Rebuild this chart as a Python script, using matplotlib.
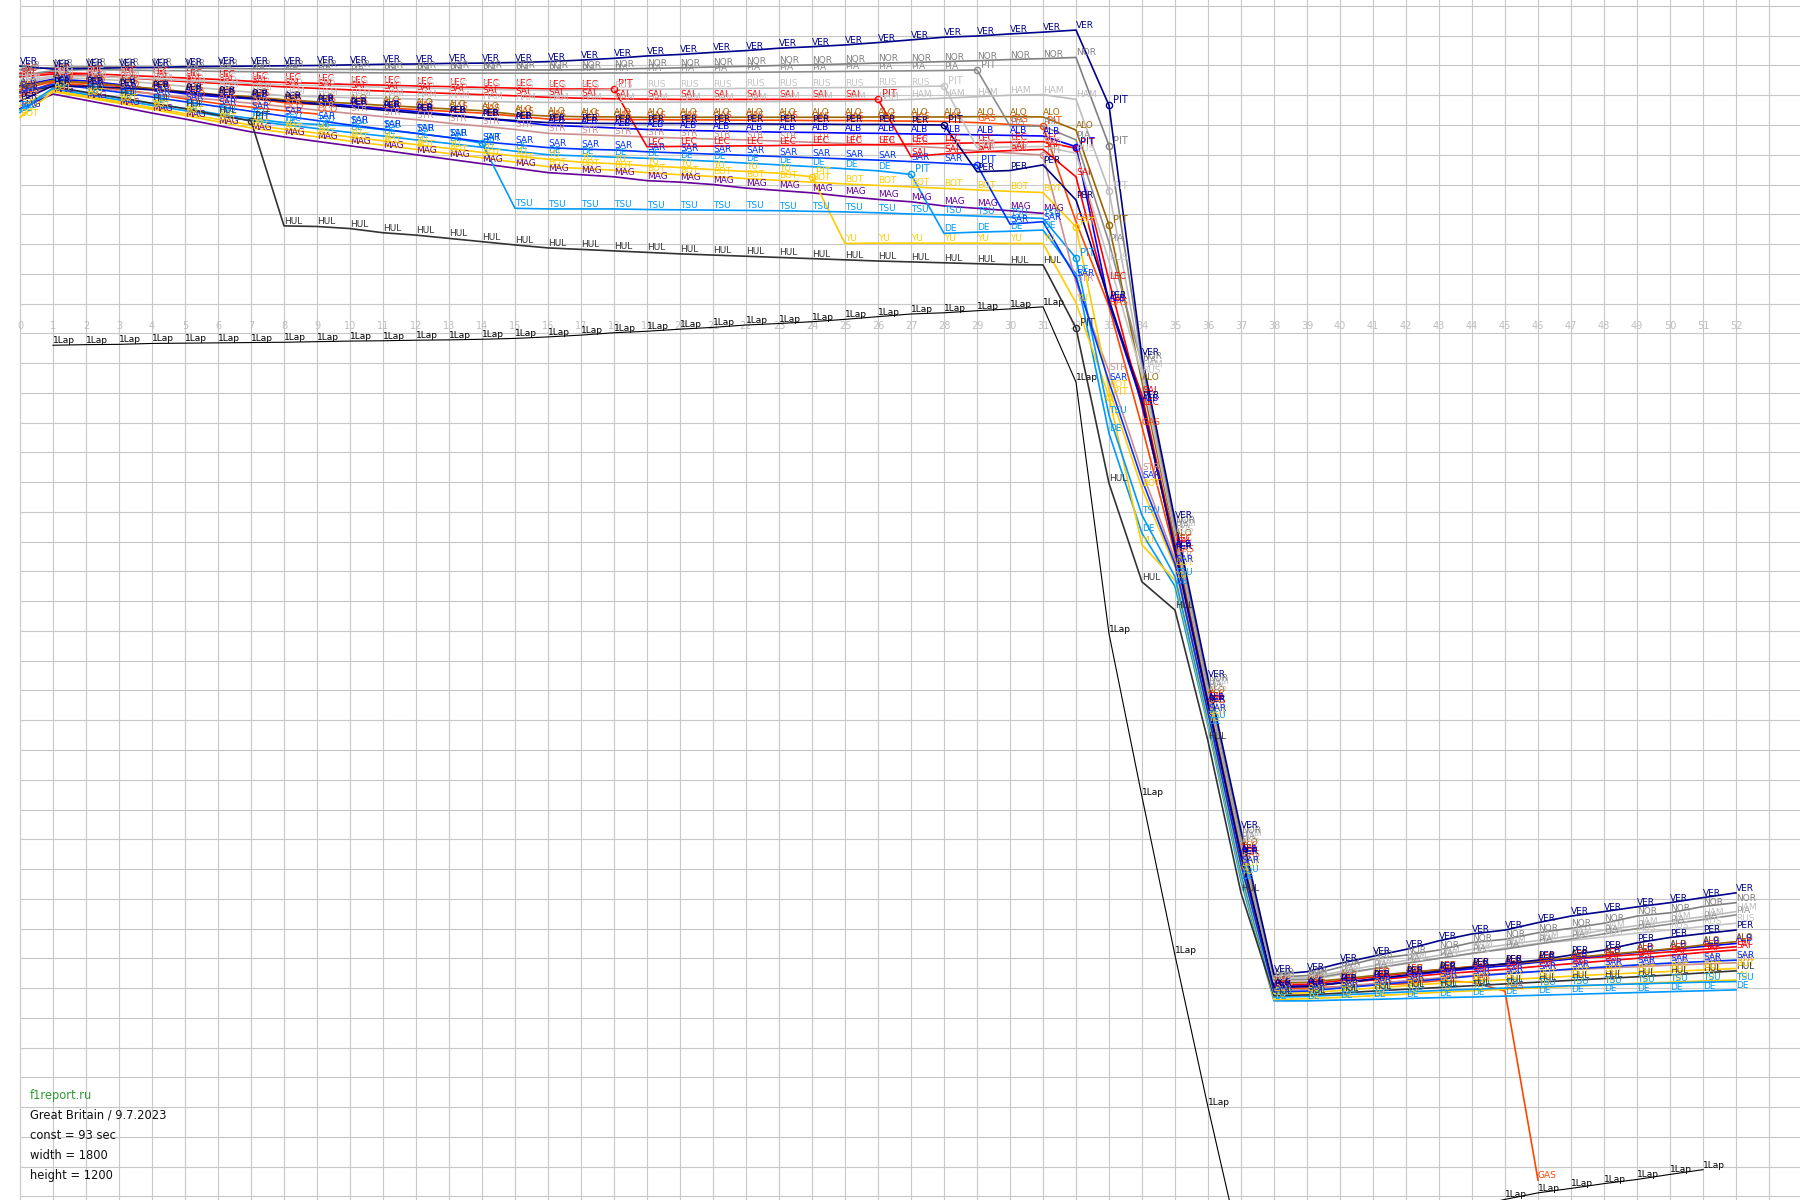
import matplotlib
matplotlib.use("Agg")
import matplotlib.pyplot as plt

# lap chart, gaps in seconds against a constant 93 s lap
CONST = 93
laps = list(range(53))

ver = [89.8, 88.8, 89.0, 89.2, 89.3, 89.6, 89.7, 89.8, 89.9, 90.0, 90.2, 90.4, 90.5, 90.7, 90.8, 91.0, 91.3,
       91.8, 92.4, 93.2, 93.7, 94.4, 95.0, 95.8, 96.3, 96.9, 97.7, 98.6, 99.5, 99.9, 100.6, 101.2, 101.9,
       76.6, -7.9, -62.7, -116.0, -167.0, -215.4,
       -214.5, -211.7, -209.3, -207.0, -204.1, -201.8, -200.5, -198.0, -195.8, -194.3, -192.7, -191.3, -189.6, -188.0]
nor = [88.6, 89.3, 89.5, 89.5, 89.4, 89.2, 89.0, 88.9, 88.8, 88.7, 88.7, 88.6, 88.6, 88.5, 88.5, 88.5, 88.5,
       88.6, 88.8, 89.0, 89.2, 89.5, 89.7, 90.0, 90.2, 90.5, 90.8, 91.0, 91.3, 91.6, 92.0, 92.3, 92.7,
       63.1, -9.3, -64.3, -117.5, -168.5, -216.3,
       -215.8, -213.0, -210.3, -208.9, -207.2, -204.7, -203.6, -201.4, -199.9, -198.2, -195.8, -194.7, -192.6, -191.3]
ham = [84.0, 86.0, 85.6, 85.0, 84.0, 83.0, 82.0, 81.0, 79.8, 79.5, 79.2, 79.0, 78.7, 78.3, 78.0, 77.7, 77.6,
       77.6, 77.6, 77.7, 77.7, 77.8, 77.8, 77.9, 78.0, 78.0, 78.2, 78.6, 79.0, 79.5, 80.0, 80.2, 78.6,
       47.9, -12.0, -65.5, -118.5, -169.5, -216.8,
       -216.5, -214.5, -212.5, -210.7, -209.0, -207.0, -205.5, -204.0, -202.5, -200.5, -199.0, -197.5, -196.0, -194.3]
pia = [86.8, 88.2, 88.6, 88.5, 88.3, 88.2, 88.0, 87.9, 87.8, 87.7, 87.6, 87.5, 87.5, 87.4, 87.4, 87.4, 87.4,
       87.4, 87.5, 87.5, 87.6, 87.6, 87.7, 87.8, 87.9, 88.0, 88.1, 88.2, 88.3, 88.5, 69.7, 69.6, 65.0,
       30.5, -10.5, -66.1, -119.5, -170.5, -217.3,
       -217.0, -215.2, -213.5, -211.7, -210.0, -208.3, -206.9, -205.2, -203.5, -201.8, -200.0, -198.5, -197.0, -195.4]
rus = [84.8, 86.5, 86.4, 86.0, 85.5, 85.0, 84.5, 84.0, 83.5, 83.2, 83.0, 82.7, 82.5, 82.2, 82.0, 81.8, 81.6,
       81.7, 81.8, 82.0, 82.1, 82.2, 82.3, 82.4, 82.5, 82.6, 82.7, 82.9, 83.1, 62.4, 62.6, 62.8, 60.5,
       24.1, -14.0, -67.5, -120.5, -171.5, -217.8,
       -217.5, -215.5, -213.5, -211.5, -210.0, -208.5, -206.5, -205.0, -204.0, -202.8, -201.5, -200.5, -199.3, -198.2]
lec = [87.4, 87.6, 87.3, 86.8, 86.3, 85.8, 85.3, 84.7, 84.3, 84.0, 83.6, 83.4, 83.1, 82.9, 82.6, 82.4, 82.1,
       82.1, 82.0, 62.7, 62.8, 62.9, 63.0, 63.1, 63.2, 63.3, 63.4, 63.6, 63.8, 64.0, 64.2, 64.4, 62.2,
       17.7, -24.7, -70.6, -122.5, -173.5, -218.8,
       -218.7, -217.5, -216.3, -215.0, -213.8, -212.8, -212.0, -211.0, -210.2, -209.5, -208.7, -207.8, -207.0, -206.1]
sai = [86.2, 87.1, 86.7, 86.0, 85.3, 84.6, 84.0, 83.4, 82.8, 82.3, 81.8, 81.4, 81.0, 80.6, 80.2, 79.8, 79.3,
       79.0, 78.8, 78.7, 78.6, 78.6, 78.6, 78.6, 78.6, 78.6, 78.6, 59.4, 60.3, 60.9, 61.4, 61.8, 52.6,
       10.0, -20.7, -71.5, -123.5, -174.5, -219.3,
       -219.3, -218.3, -217.3, -216.3, -215.3, -214.5, -213.7, -212.7, -211.8, -210.9, -210.0, -209.0, -208.0, -207.2]
alo = [82.8, 85.0, 84.3, 83.3, 82.3, 81.2, 80.2, 79.5, 78.5, 77.8, 77.3, 76.6, 76.0, 75.4, 74.8, 73.6, 73.0,
       72.8, 72.7, 72.6, 72.6, 72.6, 72.6, 72.6, 72.6, 72.6, 72.7, 72.7, 72.7, 72.8, 72.8, 72.7, 68.3,
       36.4, -16.3, -68.9, -121.5, -172.5, -218.3,
       -218.0, -217.0, -215.8, -214.8, -213.8, -212.8, -212.0, -211.0, -209.8, -208.8, -207.8, -206.8, -205.5, -204.4]
gas = [81.8, 84.7, 84.0, 83.0, 82.0, 80.9, 79.9, 79.0, 77.5, 76.9, 76.4, 75.8, 75.2, 74.6, 74.0, 73.0, 72.0,
       71.9, 71.8, 71.8, 71.7, 71.7, 71.6, 71.6, 71.5, 71.5, 71.4, 71.3, 71.2, 70.8, 70.2, 69.7, 37.5,
       9.0, -31.4, -74.0, -125.0, -176.5, -220.3,
       -220.0, -219.5, -219.0, -218.5, -217.5, -218.0, -221.0, -284.5, None, None, None, None, None, None]
per = [78.0, 83.2, 83.0, 82.5, 81.8, 81.0, 80.0, 79.0, 78.0, 77.0, 76.0, 75.0, 74.0, 73.2, 72.3, 71.5, 70.8,
       70.6, 70.5, 70.5, 70.5, 70.4, 70.4, 70.3, 70.3, 70.2, 70.2, 70.1, 70.0, 54.3, 54.7, 56.6, 44.8,
       11.3, -22.5, -73.0, -124.5, -175.5, -219.8,
       -219.5, -218.3, -217.0, -215.6, -214.3, -213.0, -211.8, -210.6, -208.9, -207.2, -204.8, -203.0, -201.7, -200.5]
alb = [83.2, 85.4, 84.8, 83.6, 82.0, 80.5, 79.5, 78.8, 78.3, 77.5, 76.5, 75.5, 74.5, 73.5, 72.3, 71.2, 69.9,
       69.5, 69.0, 68.5, 68.2, 68.0, 67.8, 67.6, 67.5, 67.3, 67.2, 67.0, 66.9, 66.7, 66.5, 66.3, 62.7,
       10.2, -23.5, -72.3, -124.0, -175.0, -219.5,
       -219.3, -218.2, -217.0, -215.8, -214.6, -213.5, -212.5, -211.3, -210.2, -209.0, -208.0, -207.0, -206.0, -205.0]
stro = [79.2, 83.3, 82.6, 81.6, 80.5, 79.4, 78.4, 77.3, 76.2, 75.0, 73.9, 72.8, 71.8, 70.6, 69.6, 68.5, 67.2,
        66.8, 66.4, 66.0, 65.6, 65.3, 65.0, 64.6, 64.2, 63.8, 63.3, 62.9, 62.3, 61.3, 60.6, 59.9, 17.0,
        -12.9, -46.5, -76.0, -126.5, -177.5, -220.8,
        -220.5, -219.5, -218.5, -217.5, -216.6, -215.8, -215.0, -214.4, -213.8, -213.3, -212.8, -212.3, -211.9, -211.5]
sar = [80.8, 83.7, 82.5, 81.0, 79.4, 77.8, 76.2, 74.6, 73.0, 71.5, 70.0, 68.6, 67.2, 65.8, 64.4, 63.4, 62.4,
       61.9, 61.6, 61.0, 60.6, 60.2, 59.8, 59.4, 59.0, 58.6, 58.2, 57.7, 57.2, 56.6, 36.7, 37.5, 18.6,
       -16.3, -49.3, -77.5, -127.5, -178.5, -221.3,
       -221.0, -220.0, -219.0, -218.0, -217.0, -216.0, -215.2, -214.4, -213.6, -212.9, -212.2, -211.6, -211.1, -210.6]
dev = [74.2, 82.0, 80.2, 78.4, 76.6, 74.8, 73.1, 71.5, 70.1, 68.8, 67.5, 66.3, 65.0, 63.8, 62.5, 61.2, 60.0,
       59.6, 59.2, 58.8, 58.3, 57.8, 57.2, 56.6, 56.0, 55.3, 54.6, 53.4, 33.6, 34.0, 34.3, 34.7, 20.0,
       -33.6, -67.2, -85.0, -132.0, -184.0, -224.3,
       -224.3, -224.0, -223.8, -223.5, -223.2, -223.0, -222.7, -222.4, -222.1, -221.8, -221.5, -221.2, -220.9, -220.6]
tsu = [75.0, 82.4, 80.8, 79.0, 77.2, 75.5, 73.7, 72.2, 70.8, 70.2, 69.7, 68.4, 67.2, 65.8, 63.9, 42.0, 41.8,
       41.8, 41.8, 41.6, 41.5, 41.4, 41.3, 41.2, 41.0, 40.8, 40.5, 40.1, 39.8, 39.4, 39.0, 38.6, 25.3,
       -27.5, -61.1, -81.8, -130.0, -181.5, -223.0,
       -222.8, -222.3, -221.8, -221.3, -220.8, -220.4, -220.0, -219.6, -219.2, -218.9, -218.6, -218.3, -218.0, -217.8]
zho = [76.5, 81.6, 79.7, 77.8, 75.8, 73.8, 71.9, 70.0, 68.6, 67.3, 66.0, 64.7, 63.4, 62.1, 60.8, 59.6, 58.5,
       57.5, 57.0, 56.3, 55.7, 55.0, 54.4, 53.8, 52.6, 30.2, 30.3, 30.3, 30.3, 30.3, 30.2, 30.2, 10.2,
       -21.3, -71.1, -83.0, -131.0, -182.5, -223.8,
       -223.6, -223.1, -222.6, -222.0, -221.4, -220.9, -220.4, -219.9, -219.4, -218.9, -218.4, -218.0, -217.6, -217.3]
bot = [72.5, 81.2, 79.3, 77.3, 75.3, 73.2, 71.1, 69.0, 67.5, 66.0, 64.6, 63.2, 61.8, 60.4, 59.0, 57.5, 56.0,
       55.4, 54.8, 54.0, 53.3, 52.7, 52.0, 51.4, 50.8, 50.2, 49.7, 49.2, 48.7, 48.2, 47.7, 47.3, 35.8,
       -18.8, -52.1, -78.4, -128.5, -179.5, -221.8,
       -221.6, -220.8, -220.0, -219.2, -218.4, -217.8, -217.2, -216.6, -216.0, -215.4, -214.9, -214.4, -213.9, -213.4]
mag = [75.5, 80.4, 78.3, 76.2, 74.0, 72.0, 69.8, 67.7, 66.0, 64.5, 63.0, 61.5, 60.0, 58.5, 57.0, 55.5, 54.0,
       53.3, 52.6, 51.3, 50.8, 50.0, 48.8, 48.0, 47.2, 46.0, 45.0, 44.2, 42.8, 42.0, 41.2, 40.3] + [None] * 21
hul = [81.2, 82.9, 81.0, 79.2, 77.3, 75.5, 73.3, 71.4, 36.1, 35.9, 35.2, 33.8, 33.0, 31.9, 30.8, 29.7, 28.7,
       28.2, 27.7, 27.2, 26.7, 26.3, 25.9, 25.5, 25.1, 24.7, 24.3, 24.0, 23.7, 23.4, 23.1, 23.0, 1.8,
       -50.4, -83.5, -93.0, -137.0, -188.0, -222.5,
       -222.3, -221.7, -221.0, -220.4, -219.8, -219.2, -218.6, -218.0, -217.4, -216.8, -216.2, -215.6, -214.9, -214.2]
oco = [79.8, 84.3, 83.3, 82.0, 80.5, 78.8, 77.2, 76.0, 74.8, 73.7] + [None] * 43

drivers = [
    ("VER", ver, "#00008B"), ("NOR", nor, "#808080"), ("HAM", ham, "#BDBDBD"),
    ("PIA", pia, "#8C8C8C"), ("RUS", rus, "#C4C4C4"), ("PER", per, "#000080"),
    ("ALO", alo, "#996600"), ("ALB", alb, "#0000FF"), ("LEC", lec, "#FF0000"),
    ("SAI", sai, "#FF0000"), ("SAR", sar, "#0033FF"), ("BOT", bot, "#FFCC00"),
    ("HUL", hul, "#333333"), ("STR", stro, "#CC8E8E"), ("TSU", tsu, "#0099FF"),
    ("YU", zho, "#FFCC00"), ("DE", dev, "#0099FF"), ("GAS", gas, "#FF4500"),
    ("MAG", mag, "#660099"), ("OCO", oco, "#FF4500"),
]

pit_laps = {"VER": [33], "NOR": [33], "HAM": [33], "PIA": [29], "RUS": [28], "LEC": [18, 32],
            "SAI": [26], "ALO": [33], "GAS": [31], "PER": [28], "ALB": [32], "STR": [31],
            "SAR": [29], "DE": [27], "TSU": [14, 32], "YU": [24, 33], "BOT": [32], "HUL": [7, 32]}

info = ["Great Britain / 9.7.2023", "const = 93 sec", "width = 1800", "height = 1200"]

YMIN, YMAX = -291.2, 112.0

fig = plt.figure(figsize=(18, 12), dpi=100)
ax = fig.add_axes([0, 0, 1, 1])
ax.set_xlim(-20 / 33, 1780 / 33)
ax.set_ylim(YMIN, YMAX)
ax.axis("off")

# grid
for k in range(54):
    ax.axvline(k, color="#C8C8C8", lw=0.8, zorder=0)
for s in range(-290, 111, 10):
    ax.hlines(s, 0, 60, color="#C8C8C8", lw=0.8, zorder=0)
for k in laps:
    ax.text(k, 2.4, str(k), color="#BEBEBE", fontsize=7, ha="center", va="center", zorder=1)

# one lap behind the leader
one_x = laps[1:52]
one_y = [ver[k + 1] - CONST for k in one_x]
ax.plot(one_x, one_y, color="black", lw=0.8, zorder=2)
for x, y in zip(one_x, one_y):
    if y >= YMIN:
        ax.text(x, y, "1Lap", color="black", fontsize=6.5, ha="left", va="bottom", zorder=2)

for code, vals, col in reversed(drivers):
    xs = [k for k, v in zip(laps, vals) if v is not None]
    ys = [v for v in vals if v is not None]
    ax.plot(xs, ys, color=col, lw=1.2, zorder=3)
    for x, y in zip(xs, ys):
        if x in pit_laps.get(code, []):
            ax.plot(x, y, "o", ms=4.5, mfc="none", mec=col, mew=1.0, zorder=4)
            ax.text(x + 0.12, y, "PIT", color=col, fontsize=7, ha="left", va="bottom", zorder=4)
        else:
            ax.text(x, y, code, color=col, fontsize=6.5, ha="left", va="bottom", zorder=4)

fig.text(30 / 1800, 1 - 1095 / 1200, "f1report.ru", color="#339933", fontsize=8.3, va="center")
for i, line in enumerate(info):
    fig.text(30 / 1800, 1 - (1115 + 20.3 * i) / 1200, line, color="#111111", fontsize=8.3, va="center")

fig.savefig("out.png", dpi=100, facecolor="white")
